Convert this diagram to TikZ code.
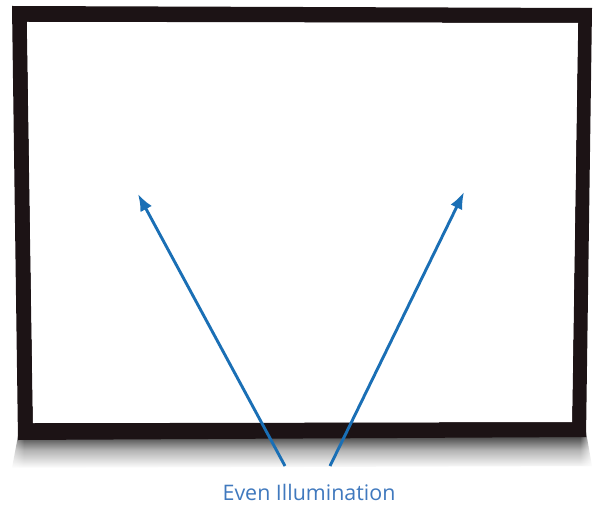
\documentclass[tikz,border=0pt]{standalone}
\usepackage{fontspec}
\setmainfont{Open Sans}
\usetikzlibrary{arrows.meta,fadings}
\definecolor{framecol}{HTML}{1C1315}
\definecolor{arrowcol}{HTML}{1A6FB5}
\definecolor{labelcol}{HTML}{4079BE}
\tikzset{
  pointer/.style={draw=arrowcol, line width=2.9bp, -{Latex[length=17bp,width=13bp]}},
  caption/.style={text=labelcol, font=\fontsize{21.5}{25}\selectfont, inner sep=0pt}
}
\begin{document}
\begin{tikzpicture}[x=1bp,y=-1bp]
\useasboundingbox (0,0) rectangle (595,506);
\fill[white] (0,0) rectangle (595,506);
% shadow under the frame
\shade[top color=black!85, bottom color=white, middle color=black!30]
  (18,436) -- (586,432) -- (592,466) -- (12,468) -- cycle;
\fill[white, path fading=east] (0,425) rectangle (24,475);
\fill[white, path fading=west] (580,425) rectangle (595,475);
% frame
\fill[framecol, even odd rule]
  (12,6) -- (592,8) -- (586,437) -- (18,440) -- cycle
  (27,22) -- (578,23) -- (572,422) -- (33,423) -- cycle;
\fill[white] (27,22) -- (578,23) -- (572,422) -- (33,423) -- cycle;
% label and arrows
\node[caption] (lbl) at (309,492) {Even Illumination};
\coordinate (s1) at (285,466);
\coordinate (t1) at (138,194);
\coordinate (s2) at (330,466);
\coordinate (t2) at (464,192);
\draw[pointer] (s1) -- (t1);
\draw[pointer] (s2) -- (t2);
\end{tikzpicture}
\end{document}
